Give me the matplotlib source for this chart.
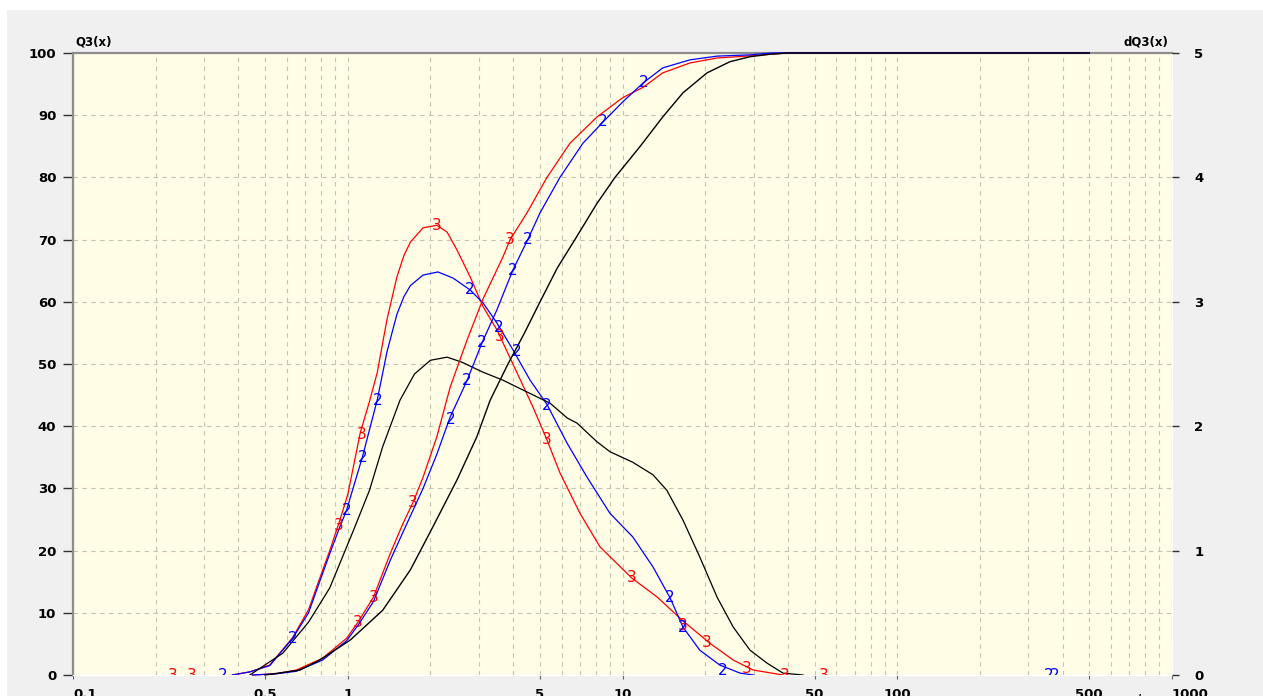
import numpy as np
import matplotlib
matplotlib.use('Agg')
import matplotlib.pyplot as plt
from matplotlib.patches import Rectangle
from matplotlib.ticker import LogLocator, NullFormatter

# Q3(x) cumulative curves, % (left axis)
red_q3_x = [0.45, 0.55, 0.65, 0.81, 0.99, 1.09, 1.24, 1.43, 1.59, 1.73, 1.88, 2.11, 2.36, 2.72,
            3.11, 3.67, 3.9, 4.49, 5.31, 6.44, 8.07, 10.0, 11.9, 14.0, 17.6, 22.1, 28.4, 34.4, 40, 500]
red_q3_y = [0, 0.2, 0.8, 2.7, 5.9, 8.5, 12.5, 19.6, 24.4, 27.8, 31.8, 38.3, 46.3, 53.9,
            60.5, 67.2, 70.0, 74.3, 80.0, 85.5, 89.7, 92.8, 94.5, 96.8, 98.4, 99.2, 99.5, 99.8, 100, 100]

blue_q3_x = [0.45, 0.55, 0.65, 0.81, 0.99, 1.09, 1.24, 1.43, 1.59, 1.88, 2.11, 2.36, 2.52, 2.72,
             3.08, 3.49, 3.99, 4.52, 5.01, 5.92, 7.18, 8.49, 10.0, 11.9, 14.0, 17.6, 22.1, 29.1, 35, 500]
blue_q3_y = [0, 0.2, 0.6, 2.4, 5.5, 8.0, 11.8, 18.5, 23.0, 30.0, 35.5, 41.5, 44.2, 47.4,
             53.4, 58.7, 65.1, 70.0, 74.3, 80.0, 85.5, 88.9, 92.1, 95.2, 97.6, 98.9, 99.5, 99.7, 100, 100]

black_q3_x = [0.5, 0.67, 0.79, 1.02, 1.34, 1.69, 2.04, 2.50, 2.95, 3.30, 3.83, 4.4, 5.01, 5.8,
              6.71, 8.07, 9.39, 11.6, 14.0, 16.6, 20.3, 24.6, 29.1, 34.4, 40, 500]
black_q3_y = [0, 0.8, 2.4, 5.6, 10.4, 16.9, 23.8, 31.4, 38.3, 44.2, 50.0, 55.0, 60.0, 65.5,
              70.0, 75.8, 80.0, 85.0, 89.7, 93.6, 96.8, 98.6, 99.4, 99.8, 100, 100]

# dQ3(x) density curves (right axis)
red_dq3_x = [0.38, 0.44, 0.52, 0.63, 0.72, 0.79, 0.86, 0.93, 1.0, 1.11, 1.2, 1.28, 1.39, 1.51, 1.6,
             1.69, 1.88, 2.11, 2.30, 2.50, 2.79, 3.11, 3.49, 4.13, 4.72, 5.31, 5.92, 7.0, 8.28, 10.8,
             13.4, 16.5, 20.8, 25.3, 29.9, 38.4]
red_dq3_y = [0, 0.025, 0.08, 0.30, 0.525, 0.775, 1.0, 1.225, 1.45, 1.945, 2.2, 2.43, 2.86, 3.2, 3.37,
             3.48, 3.595, 3.615, 3.56, 3.415, 3.2, 2.96, 2.775, 2.43, 2.155, 1.89, 1.625, 1.3, 1.03, 0.78,
             0.625, 0.44, 0.255, 0.12, 0.04, 0]

blue_dq3_x = [0.38, 0.44, 0.52, 0.63, 0.72, 0.79, 0.86, 0.93, 0.99, 1.13, 1.28, 1.39, 1.51, 1.6,
              1.69, 1.88, 2.13, 2.42, 2.79, 3.11, 3.49, 3.99, 4.61, 5.31, 6.28, 7.43, 9.0, 10.9, 12.9,
              14.9, 16.6, 19.1, 22.6, 26.8, 30]
blue_dq3_y = [0, 0.025, 0.075, 0.295, 0.5, 0.75, 0.975, 1.175, 1.325, 1.75, 2.21, 2.6, 2.9, 3.04,
              3.13, 3.215, 3.24, 3.19, 3.095, 2.99, 2.83, 2.615, 2.37, 2.175, 1.865, 1.59, 1.3, 1.11, 0.87,
              0.62, 0.385, 0.2, 0.08, 0.015, 0]

black_dq3_x = [0.44, 0.58, 0.72, 0.86, 1.05, 1.2, 1.34, 1.55, 1.75, 2.0, 2.3, 2.6, 3.1, 3.67, 4.35,
               5.45, 6.3, 6.83, 8.07, 9.0, 10.9, 12.9, 14.5, 16.6, 19.1, 22.1, 25.3, 29.1, 33.6,
               38.4, 45.4]
black_dq3_y = [0, 0.175, 0.425, 0.7, 1.165, 1.485, 1.835, 2.21, 2.42, 2.53, 2.555, 2.515, 2.435, 2.37, 2.29,
               2.185, 2.065, 2.025, 1.875, 1.795, 1.71, 1.61, 1.485, 1.245, 0.95, 0.625, 0.385, 0.2, 0.095,
               0.015, 0]

# curve number labels ("3" = red, "2" = blue)
red_q3_mk_x = [1.09, 1.24, 1.73, 3.9]
red_q3_mk_y = [8.5, 12.5, 27.8, 70.0]
red_dq3_mk_x = [0.23, 0.27, 0.93, 1.12, 2.11, 3.58, 5.3, 10.8, 16.6, 20.3, 28.4, 39, 54]
red_dq3_mk_y = [0, 0, 1.2, 1.93, 3.61, 2.72, 1.89, 0.78, 0.40, 0.26, 0.055, 0, 0]

blue_q3_mk_x = [2.36, 2.72, 3.08, 3.99, 4.52, 8.5, 11.9]
blue_q3_mk_y = [41.0, 47.4, 53.4, 65.0, 70.0, 89.0, 95.2]
blue_dq3_mk_x = [0.35, 0.63, 0.99, 1.13, 1.28, 2.79, 3.55, 4.13, 5.3, 14.9, 16.6, 23.2, 355, 375]
blue_dq3_mk_y = [0, 0.295, 1.325, 1.75, 2.21, 3.095, 2.79, 2.6, 2.17, 0.62, 0.385, 0.04, 0, 0]

x_ticks = [0.1, 0.5, 1, 5, 10, 50, 100, 500, 1000]
x_tick_labels = ['0.1', '0.5', '1', '5', '10', '50', '100', '500', '1000']
q3_ticks = list(range(0, 101, 10))
dq3_ticks = [0, 1, 2, 3, 4, 5]

W, H = 1263, 696


def put_numbers(ax, xs, ys, text, color):
    for x, y in zip(xs, ys):
        ax.text(x, y, text, color=color, fontsize=11, ha='center', va='center', clip_on=True)


def main():
    fig = plt.figure(figsize=(W / 100, H / 100), dpi=100)
    fig.patch.set_facecolor('white')
    fig.add_artist(Rectangle((7 / W, 0), 1, 686 / H, transform=fig.transFigure,
                             facecolor='#f0f0f0', edgecolor='none', zorder=-10))

    ax = fig.add_axes([73 / W, 21 / H, 1099 / W, 622 / H])
    ax.set_facecolor('#fffde6')
    ax2 = ax.twinx()

    ax.set_xscale('log')
    ax.set_xlim(0.1, 1000)
    ax.set_ylim(0, 100)
    ax2.set_ylim(0, 5)

    ax2.plot(red_dq3_x, red_dq3_y, color='red', lw=0.9)
    ax2.plot(blue_dq3_x, blue_dq3_y, color='blue', lw=0.9)
    ax2.plot(black_dq3_x, black_dq3_y, color='black', lw=0.9)
    ax2.plot(red_q3_x, np.array(red_q3_y) / 20, color='red', lw=0.9, clip_on=False, zorder=3)
    ax2.plot(blue_q3_x, np.array(blue_q3_y) / 20, color='blue', lw=0.9, clip_on=False, zorder=3)
    ax2.plot(black_q3_x, np.array(black_q3_y) / 20, color='black', lw=1.0, clip_on=False, zorder=3)

    put_numbers(ax, red_q3_mk_x, red_q3_mk_y, '3', 'red')
    put_numbers(ax, blue_q3_mk_x, blue_q3_mk_y, '2', 'blue')
    put_numbers(ax2, red_dq3_mk_x, red_dq3_mk_y, '3', 'red')
    put_numbers(ax2, blue_dq3_mk_x, blue_dq3_mk_y, '2', 'blue')

    # grid
    ax.xaxis.set_minor_locator(LogLocator(base=10, subs=np.arange(2, 10)))
    ax.xaxis.set_minor_formatter(NullFormatter())
    ax.set_axisbelow(True)
    ax.grid(True, which='both', axis='x', ls=(0, (4, 4)), color='#c4c4b0', lw=0.8)
    ax.grid(True, which='major', axis='y', ls=(0, (4, 4)), color='#c4c4b0', lw=0.8)

    # ticks
    ax.set_xticks(x_ticks)
    ax.set_xticklabels(x_tick_labels, fontweight='bold', fontsize=9.5)
    labels = ax.get_xticklabels()
    labels[0].set_ha('left')
    labels[-1].set_ha('left')
    ax.tick_params(axis='x', which='major', length=3, pad=6, color='#606060')
    ax.tick_params(axis='x', which='minor', length=0)

    ax.set_yticks(q3_ticks)
    ax.set_yticklabels([str(t) for t in q3_ticks], fontweight='bold', fontsize=9.5)
    ax.tick_params(axis='y', length=7, pad=5, width=1, color='#303030')
    ax2.set_yticks(dq3_ticks)
    ax2.set_yticklabels([str(t) for t in dq3_ticks], fontweight='bold', fontsize=9.5)
    ax2.tick_params(axis='y', length=5, pad=11, width=1, color='#303030')

    ax.spines['left'].set_color('#8c8c8c')
    ax.spines['left'].set_linewidth(1.6)
    ax.spines['top'].set_color('#8c8c8c')
    ax.spines['top'].set_linewidth(1.6)
    ax.spines['right'].set_color('white')
    ax.spines['bottom'].set_color('white')
    for side in ('left', 'top', 'right', 'bottom'):
        ax2.spines[side].set_visible(False)

    fig.text(75 / W, 1 - 42 / H, 'Q3(x)', fontweight='bold', fontsize=8.5, va='center')
    fig.text(1168 / W, 1 - 42 / H, 'dQ3(x)', fontweight='bold', fontsize=8.5, va='center', ha='right')
    fig.text(1125 / W, 3 / H, 'x / µm', fontweight='bold', fontsize=8.5, va='top')

    fig.savefig('out.png', dpi=100, facecolor=fig.get_facecolor())


if __name__ == '__main__':
    main()
